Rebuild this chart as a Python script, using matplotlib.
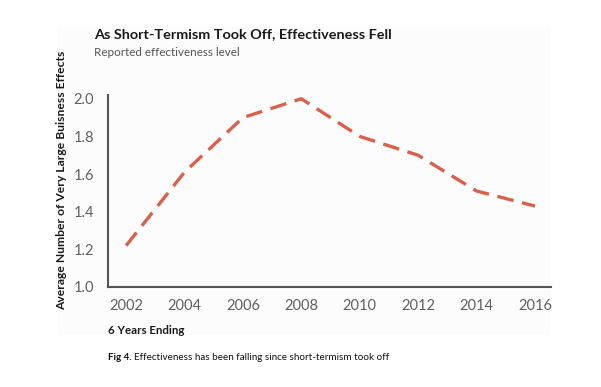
import matplotlib
matplotlib.use("Agg")
import matplotlib.pyplot as plt
from matplotlib.patches import Rectangle

years = [2002, 2004, 2006, 2008, 2010, 2012, 2014, 2016]
effects = [1.22, 1.61, 1.90, 2.00, 1.80, 1.70, 1.51, 1.43]
yticks = [1.0, 1.2, 1.4, 1.6, 1.8, 2.0]
ytick_labels = ["1.0", "1.2", "1.4", "1.6", "1.8", "2.0"]

plt.rcParams['font.family'] = ['Lato', 'DejaVu Sans']

W, H = 601, 387
fig = plt.figure(figsize=(W/100, H/100), dpi=100)
fig.patch.set_facecolor("white")
fig.patches.append(Rectangle((57/W, 1-335/H), (551-57)/W, (335-27)/H,
                             transform=fig.transFigure, facecolor="#fcfcfc",
                             edgecolor="none", zorder=-10))

ax = fig.add_axes([108/W, 1-287/H, (551-108)/W, (287-95)/H])
ax.set_facecolor("none")
ax.plot(years, effects, color="#d9604a", lw=2.4, dashes=(5, 2.6),
        dash_capstyle="butt", clip_on=False)
ax.set_xlim(2001.38, 2016.55)
ax.set_ylim(1.0, 2.02)
ax.set_xticks(years)
ax.set_xticklabels([str(y) for y in years])
ax.set_yticks(yticks)
ax.set_yticklabels(ytick_labels)
ax.tick_params(axis="both", length=0, labelsize=10.5, labelcolor="#606060")
ax.tick_params(axis="x", pad=9)
ax.tick_params(axis="y", pad=10)
for s in ["top", "right"]:
    ax.spines[s].set_visible(False)
for s in ["left", "bottom"]:
    ax.spines[s].set_color("#555555")
    ax.spines[s].set_linewidth(1.5)

fig.text(94/W, 1-34/H, "As Short-Termism Took Off, Effectiveness Fell",
         fontsize=10.4, fontweight="bold", color="#1a1a1a", va="center", ha="left")
fig.text(94/W, 1-53/H, "Reported effectiveness level",
         fontsize=8.4, color="#555555", va="center", ha="left")
fig.text(62/W, 1-180/H, "Average Number of Very Large Buisness Effects",
         fontsize=8.7, fontweight="bold", color="#1a1a1a", rotation=90,
         va="center", ha="center")
fig.text(108/W, 1-331/H, "6 Years Ending", fontsize=8.3, fontweight="bold",
         color="#1a1a1a", va="center", ha="left")
t = fig.text(108/W, 1-357/H, "Fig 4.", fontsize=7, fontweight="bold",
             color="#111111", va="center", ha="left")
fig.canvas.draw()
bb = t.get_window_extent()
fig.text((bb.x1 + 2)/W, 1-357/H, "Effectiveness has been falling since short-termism took off",
         fontsize=7.1, color="#111111", va="center", ha="left")

fig.savefig("out.png", dpi=100, facecolor="white")
